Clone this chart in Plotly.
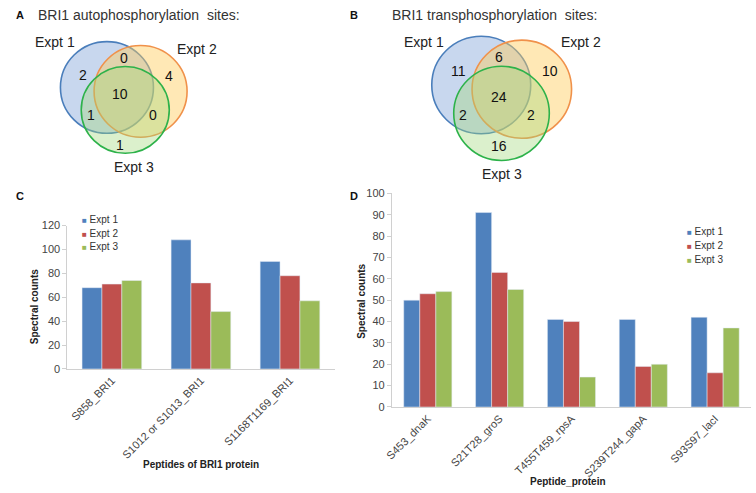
import plotly.graph_objects as go

W, H = 756, 493

# ---------------- data ----------------
series_names = ["Expt 1", "Expt 2", "Expt 3"]

peptides_c = ["S858_BRI1", "S1012 or S1013_BRI1", "S1168T1169_BRI1"]
c_expt1 = [68, 108, 90]
c_expt2 = [71, 72, 78]
c_expt3 = [74, 48, 57]

peptides_d = ["S453_dnaK", "S21T28_groS", "T455T459_rpsA", "S239T244_gapA", "S93S97_lacI"]
d_expt1 = [50, 91, 41, 41, 42]
d_expt2 = [53, 63, 40, 19, 16]
d_expt3 = [54, 55, 14, 20, 37]

# Venn region counts: only1, 1&2, only2, all, 1&3, 2&3, only3
venn_a_counts = [2, 0, 4, 10, 1, 0, 1]
venn_b_counts = [11, 6, 10, 24, 2, 2, 16]

title_a = "BRI1 autophosphorylation  sites:"
title_b = "BRI1 transphosphorylation  sites:"

# ---------------- style / layout ----------------
BLUE, RED, GREEN = "#4f81bd", "#c0504d", "#9bbb59"
FONT = "Liberation Sans, Arial, sans-serif"
TXT = "#333333"


def px(x):
    return x / W


def py(y):
    return 1 - y / H


# circle geometry in pixels: (cx, cy, r)
venn_a_geom = [(100, 83.5, 47), (134, 87.5, 47), (118.5, 106.5, 44.5)]
venn_b_geom = [(478.3, 81, 50), (519.3, 85.3, 50.3), (498.8, 110, 48.3)]
venn_a_label_pos = [(76, 71), (117, 53), (163, 72), (113, 90), (84, 112), (147, 112), (113, 142)]
venn_b_label_pos = [(455.3, 66.7), (496.3, 52.7), (547.3, 66.7), (496.3, 93.3), (460.3, 111.7),
                    (528.7, 111.7), (496.3, 143.3)]
venn_a_name_pos = [(47, 37), (191, 44), (127, 165)]
venn_b_name_pos = [(420.7, 36.7), (578.7, 36.7), (499.7, 172.7)]

circle_line = ["#4a7ebb", "#f0914a", "#2db24a"]
circle_fill = ["rgba(110,150,210,0.38)", "rgba(255,205,90,0.45)", "rgba(160,215,120,0.38)"]

legend_c_pos = (73, 219, 14)   # x, first-row y, row step (pixels)
legend_d_pos = (684, 231, 14.5)

fig = go.Figure()

colors = [BLUE, RED, GREEN]
for name, vals, col in zip(series_names, [c_expt1, c_expt2, c_expt3], colors):
    fig.add_trace(go.Bar(x=peptides_c, y=vals, name=name, marker_color=col,
                         xaxis="x", yaxis="y", showlegend=False))
for name, vals, col in zip(series_names, [d_expt1, d_expt2, d_expt3], colors):
    fig.add_trace(go.Bar(x=peptides_d, y=vals, name=name, marker_color=col,
                         xaxis="x2", yaxis="y2", showlegend=False))

shapes = []
annotations = []


def add_text(x, y, text, size, color="#222", xanchor="center", angle=0):
    annotations.append(dict(x=px(x), y=py(y), xref="paper", yref="paper", text=text,
                            showarrow=False, xanchor=xanchor, yanchor="middle", textangle=angle,
                            font=dict(size=size, color=color, family=FONT)))


for geom, counts, lpos, npos in [(venn_a_geom, venn_a_counts, venn_a_label_pos, venn_a_name_pos),
                                 (venn_b_geom, venn_b_counts, venn_b_label_pos, venn_b_name_pos)]:
    for (cx, cy, r), lc, fc in zip(geom, circle_line, circle_fill):
        shapes.append(dict(type="circle", xref="paper", yref="paper",
                           x0=px(cx - r), x1=px(cx + r), y0=py(cy + r), y1=py(cy - r),
                           line=dict(color=lc, width=1.6), fillcolor=fc, layer="above"))
    for (x, y), c in zip(lpos, counts):
        add_text(x, y, str(c), 14, "#111")
    for (x, y), n in zip(npos, series_names):
        add_text(x, y, n, 14, "#222")

# manual legends (small square markers as in the reference)
for (lx, ly, step) in [legend_c_pos, legend_d_pos]:
    for i, (n, col) in enumerate(zip(series_names, colors)):
        add_text(lx, ly + i * step,
                 "<span style='color:%s;font-size:8px'>■</span> %s" % (col, n), 10, "#333", "left")

# panel letters and titles
for letter, x, y in [("A", 12, 9), ("B", 350, 9), ("C", 12, 195), ("D", 350, 195)]:
    add_text(x, y, "<b>%s</b>" % letter, 11, "#111")
for t, x in [(title_a, 28), (title_b, 386)]:
    add_text(x, 9, t, 14, TXT, "left")

# axis titles
add_text(27, 308, "<b>Spectral counts</b>", 10, "#222", angle=-90)
add_text(357, 303, "<b>Spectral counts</b>", 10, "#222", angle=-90)
add_text(195, 470, "<b>Peptides of BRI1 protein</b>", 10, "#222")
add_text(566, 487, "<b>Peptide_protein</b>", 10, "#222")

axis_common = dict(showgrid=False, zeroline=False, tickfont=dict(size=11, color="#444", family=FONT),
                   linecolor="#d0d0d0", showline=True, fixedrange=True)

fig.update_layout(
    width=W, height=H, margin=dict(l=0, r=0, t=0, b=0),
    paper_bgcolor="white", plot_bgcolor="rgba(0,0,0,0)",
    font=dict(family=FONT), showlegend=False,
    barmode="group", bargap=0.33, bargroupgap=0,
    xaxis=dict(domain=[px(60), px(330)], anchor="y", tickangle=-45, ticks="", **axis_common),
    yaxis=dict(domain=[py(372), py(225)], anchor="x", range=[0, 120], dtick=20,
               ticks="outside", ticklen=4, tickcolor="#d0d0d0", **axis_common),
    xaxis2=dict(domain=[px(388), px(751)], anchor="y2", tickangle=-45, ticks="", **axis_common),
    yaxis2=dict(domain=[py(411), py(192)], anchor="x2", range=[0, 100], dtick=10,
                ticks="outside", ticklen=4, tickcolor="#d0d0d0", **axis_common),
    shapes=shapes, annotations=annotations,
)

fig.write_html("out.html", config={"displayModeBar": False},
               post_script="document.body.style.margin='0';document.body.style.padding='0';")
